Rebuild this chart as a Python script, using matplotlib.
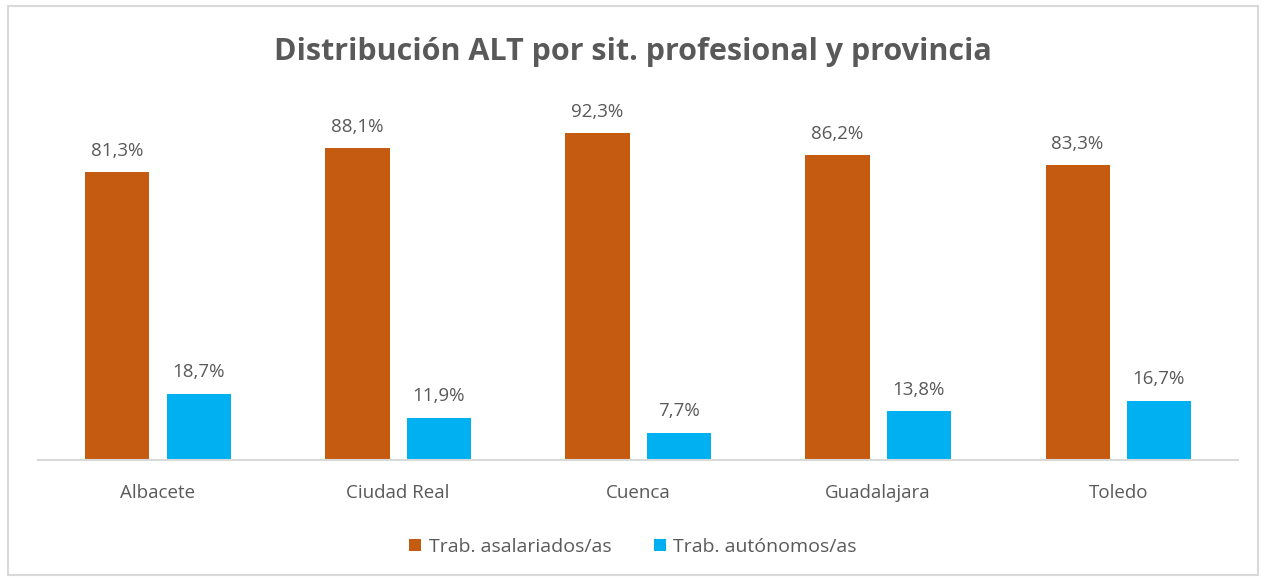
import numpy as np
import matplotlib.pyplot as plt
from matplotlib.patches import Rectangle

provincias = ["Albacete", "Ciudad Real", "Cuenca", "Guadalajara", "Toledo"]
asalariados = [81.3, 88.1, 92.3, 86.2, 83.3]
autonomos = [18.7, 11.9, 7.7, 13.8, 16.7]
series_names = ["Trab. asalariados/as", "Trab. autónomos/as"]

ORANGE = "#C55A11"
BLUE = "#00B0F0"
GREY = "#595959"

plt.rcParams["font.family"] = ["Open Sans", "DejaVu Sans"]

fig = plt.figure(figsize=(12.66, 5.79), dpi=100)
ax = fig.add_axes([0.030, 0.2055, 0.948, 0.611])

x = np.arange(len(provincias))
w = 0.267
off = 0.169
b1 = ax.bar(x - off, asalariados, w, color=ORANGE, label=series_names[0])
b2 = ax.bar(x + off, autonomos, w, color=BLUE, label=series_names[1])

for bars, vals in ((b1, asalariados), (b2, autonomos)):
    for rect, v in zip(bars, vals):
        ax.annotate(f"{v:.1f}%".replace(".", ","),
                    (rect.get_x() + rect.get_width() / 2, v),
                    xytext=(0, 9), textcoords="offset points",
                    ha="center", va="bottom", fontsize=13.5, color=GREY)

ax.set_xlim(-0.5, len(provincias) - 0.5)
ax.set_ylim(0, 100)
ax.set_xticks(x)
ax.set_xticklabels(provincias, fontsize=13.5, color=GREY)
ax.tick_params(axis="x", length=0, pad=17)
ax.set_yticks([])
for s in ("top", "right", "left"):
    ax.spines[s].set_visible(False)
ax.spines["bottom"].set_color("#D9D9D9")
ax.spines["bottom"].set_linewidth(1.5)

fig.text(0.5, 0.91, "Distribución ALT por sit. profesional y provincia",
         ha="center", va="center", fontsize=22, fontweight="bold", color=GREY)

fig.legend(loc="center", bbox_to_anchor=(0.5, 0.056), ncol=2, frameon=False,
           fontsize=14, labelcolor=GREY, handlelength=0.6, handleheight=0.6,
           handletextpad=0.4, columnspacing=2.2)

fig.patches.append(Rectangle((0.006, 0.007), 0.988, 0.983, transform=fig.transFigure,
                             fill=False, edgecolor="#D9D9D9", linewidth=1.5))

fig.savefig("out.png", dpi=100)
